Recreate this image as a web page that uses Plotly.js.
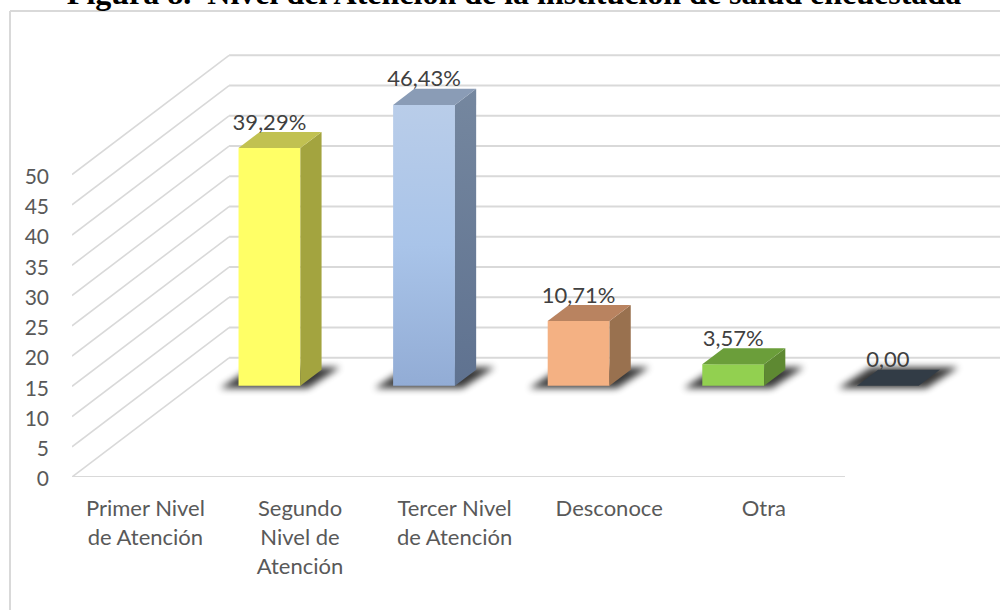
<!DOCTYPE html>
<html><head><meta charset="utf-8">
<script src="https://cdn.plot.ly/plotly-3.0.1.min.js"></script>
<style>html,body{margin:0;padding:0;background:#fff;overflow:hidden}</style>
</head><body><div id="chart" style="width:1000px;height:610px"></div>
<script>
const categories = ["Primer Nivel<br>de Atención","Segundo<br>Nivel de<br>Atención","Tercer Nivel<br>de Atención","Desconoce","Otra"];
const values = [39.29, 46.43, 10.71, 3.57, 0];
const valueLabels = ["39,29%","46,43%","10,71%","3,57%","0,00"];
const yTicks = [0,5,10,15,20,25,30,35,40,45,50];
const frontColors = ["#ffff66","#a9c4e9","#f4b183","#92d050","#323c46"];
const topColors = ["#c1c151","#8a9cb6","#b98360","#6b9e3a","#323c46"];
const sideColors = ["#a3a43f","#6a7d97","#99714f","#5e8932","#323c46"];
const gridColor = "#d9d9d9";

// Oblique projection: how far the back wall is shifted, in axis units.
const depthX = 1.016, depthY = 19.7;
const barFront = 0.765, barBack = 0.9, barWidth = 0.4;
const xMin = -0.5, xMax = 5.503, yMax = 78.84, floorEnd = 4.5;
const idx = values.map((_, i) => i);
const dxF = depthX * barFront, dyF = depthY * barFront;
const dxB = depthX * barBack, dyB = depthY * barBack;

const shapes = [];
const line = (x0,y0,x1,y1,w) => ({type:"line",xref:"x",yref:"y",x0,y0,x1,y1,layer:"below",line:{color:gridColor,width:w}});
yTicks.forEach(t => {
  shapes.push(line(xMin,t,xMin+depthX,t+depthY,1.6));
  shapes.push(line(xMin+depthX,t+depthY,xMax,t+depthY,2));
});
shapes.push(line(xMin,0,floorEnd,0,2));
// chart frame
const frameL = -62/928, frameB = -133/477;
shapes.push({type:"line",xref:"paper",yref:"paper",x0:frameL,x1:1,y0:466/477,y1:466/477,layer:"below",line:{color:gridColor,width:2}});
shapes.push({type:"line",xref:"paper",yref:"paper",x0:frameL,x1:frameL,y0:466/477,y1:frameB,layer:"below",line:{color:gridColor,width:2}});
const nBefore = shapes.length;
// floor shadows
idx.forEach(i => {
  const cx = i + dxF, w = barWidth/2, pad = 0.12, vp = 0.4;
  const shift = depthX*(barBack-barFront);
  const y0 = dyF - vp, y1 = dyB + vp;
  shapes.push({type:"path",xref:"x",yref:"y",layer:"below",fillcolor:"#000",opacity:0.78,line:{width:0},
    path:`M ${cx-w-pad} ${y0} L ${cx+w+pad*0.4} ${y0} L ${cx+w+shift+pad} ${y1} L ${cx-w+shift-pad*0.4} ${y1} Z`});
});

const traces = [];
traces.push({type:"bar",x:idx.map(i=>i+dxF),y:values,base:values.map(()=>dyF),width:barWidth,
  marker:{color:frontColors,line:{width:0}},hoverinfo:"skip"});
values.forEach((v,i) => {
  const c = i+dxF, w = barWidth/2, sx = dxB-dxF, sy = dyB-dyF, t = dyF+v;
  traces.push({type:"scatter",mode:"lines",fill:"toself",fillcolor:sideColors[i],line:{width:0},hoverinfo:"skip",
    x:[c+w,c+w+sx,c+w+sx,c+w],y:[dyF,dyF+sy,t+sy,t]});
  traces.push({type:"scatter",mode:"lines",fill:"toself",fillcolor:topColors[i],line:{width:0},hoverinfo:"skip",
    x:[c-w,c+w,c+w+sx,c-w+sx],y:[t,t,t+sy,t+sy]});
});
traces.push({type:"scatter",mode:"text",x:idx.map(i=>i+dxF),y:values.map(v=>v+dyB+1.3),text:valueLabels,
  textposition:"middle center",textfont:{family:"Lato",size:22,color:"#404040"},cliponaxis:false,hoverinfo:"skip"});

const layout = {
  width:1000,height:610,showlegend:false,hovermode:false,
  margin:{l:72,r:0,t:0,b:133},paper_bgcolor:"#fff",plot_bgcolor:"rgba(0,0,0,0)",
  font:{family:"Lato",color:"#595959",size:20},
  title:{text:"<b>Figura 8.  Nivel del Atención de la institución de salud encuestada</b>",
    font:{family:"Liberation Serif",size:32,color:"#000"},x:0.514,xanchor:"center",y:0.994,yanchor:"bottom",yref:"container"},
  xaxis:{range:[xMin,xMax],tickmode:"array",tickvals:idx.map(i=>i-0.025),ticktext:categories,showgrid:false,zeroline:false,showline:false,ticks:"",ticklabelstandoff:16,tickangle:0,tickfont:{family:"Lato",size:22,color:"#595959"},automargin:false},
  yaxis:{range:[0,yMax],tickmode:"array",tickvals:yTicks,ticktext:yTicks.map(String),showgrid:false,zeroline:false,showline:false,ticks:"",ticklabelstandoff:22,tickfont:{family:"Lato",size:21,color:"#595959"},automargin:false},
  shapes
};

Plotly.newPlot("chart",traces,layout,{displayModeBar:false,staticPlot:true}).then(gd => {
  const NS = "http://www.w3.org/2000/svg";
  const svg = gd.querySelector(".main-svg");
  let defs = svg.querySelector("defs");
  if(!defs){defs=document.createElementNS(NS,"defs");svg.prepend(defs);}
  const grad = (id,stops) => {
    const g=document.createElementNS(NS,"linearGradient");
    g.id=id;g.setAttribute("x1","0");g.setAttribute("y1","0");g.setAttribute("x2","0");g.setAttribute("y2","1");
    stops.forEach(([o,c])=>{const s=document.createElementNS(NS,"stop");s.setAttribute("offset",o);s.setAttribute("stop-color",c);g.appendChild(s);});
    defs.appendChild(g);
  };
  grad("blueFront",[[0,"#b9cde9"],[0.5,"#a9c4e9"],[1,"#92acd5"]]);
  grad("blueSide",[[0,"#75879f"],[1,"#5f7290"]]);
  const f=document.createElementNS(NS,"filter");f.id="soft";
  f.setAttribute("x","-30%");f.setAttribute("y","-60%");f.setAttribute("width","160%");f.setAttribute("height","220%");
  const b=document.createElementNS(NS,"feGaussianBlur");b.setAttribute("stdDeviation","3.5");f.appendChild(b);defs.appendChild(f);

  const bars = gd.querySelectorAll(".barlayer .point path");
  if(bars[1]) bars[1].style.fill="url(#blueFront)";
  const tr = gd.querySelectorAll(".scatterlayer .trace");
  if(tr[2]){const p=tr[2].querySelector(".js-fill");if(p)p.style.fill="url(#blueSide)";}
  gd.querySelectorAll(".shapelayer path[data-index]").forEach(p=>{
    const k=+p.getAttribute("data-index");
    if(k>=nBefore){p.removeAttribute("clip-path");p.setAttribute("filter","url(#soft)");}
  });
  gd.querySelectorAll(".xtick text tspan.line").forEach(t=>{
    const d=parseFloat(t.getAttribute("dy"))||0;
    t.setAttribute("dy",(d/1.3*1.32)+"em");
  });
  gd.querySelectorAll(".yaxislayer-above").forEach(l=>{l.style.transform="translateY(2px)";});
});
</script></body></html>
